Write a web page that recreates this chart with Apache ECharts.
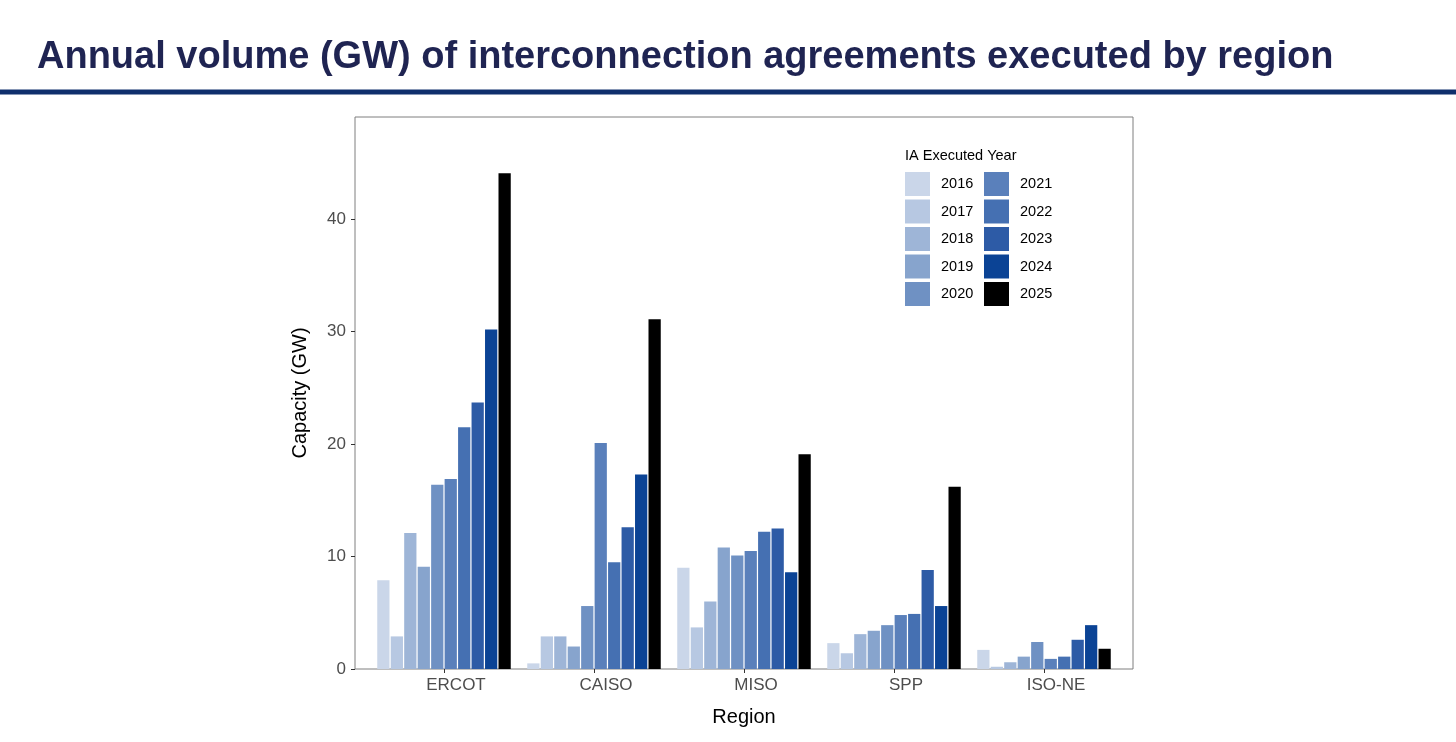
<!DOCTYPE html>
<html>
<head>
<meta charset="utf-8">
<script src="https://cdn.jsdelivr.net/npm/echarts@6/dist/echarts.min.js"></script>
<style>
html,body{margin:0;padding:0;background:#fff;}
#chart{width:1456px;height:742px;}
</style>
</head>
<body>
<div id="chart"></div>
<script>
const regions = ['ERCOT', 'CAISO', 'MISO', 'SPP', 'ISO-NE'];
const years = ['2016','2017','2018','2019','2020','2021','2022','2023','2024','2025'];
const yTicks = [0, 10, 20, 30, 40];
// values per year, ordered as regions
const v2016 = [7.9, 0.5, 9.0, 2.3, 1.7];
const v2017 = [2.9, 2.9, 3.7, 1.4, 0.2];
const v2018 = [12.1, 2.9, 6.0, 3.1, 0.6];
const v2019 = [9.1, 2.0, 10.8, 3.4, 1.1];
const v2020 = [16.4, 5.6, 10.1, 3.9, 2.4];
const v2021 = [16.9, 20.1, 10.5, 4.8, 0.9];
const v2022 = [21.5, 9.5, 12.2, 4.9, 1.1];
const v2023 = [23.7, 12.6, 12.5, 8.8, 2.6];
const v2024 = [30.2, 17.3, 8.6, 5.6, 3.9];
const v2025 = [44.1, 31.1, 19.1, 16.2, 1.8];
const seriesValues = [v2016, v2017, v2018, v2019, v2020, v2021, v2022, v2023, v2024, v2025];
const colors = ['#cad6e9','#b7c8e2','#9eb5d7','#87a4cd','#6f91c3','#5a80bb','#4570b2','#2d5ba6','#0b4395','#000000'];

const FONT = '"Liberation Sans", Arial, Helvetica, sans-serif';
const chart = echarts.init(document.getElementById('chart'), null, {renderer: 'canvas'});

const series = years.map((y, i) => ({
  name: y,
  type: 'bar',
  xAxisIndex: 0,
  yAxisIndex: 0,
  data: seriesValues[i],
  barCategoryGap: '11%',
  barGap: '10%',
  itemStyle: {color: colors[i]},
  emphasis: {disabled: true},
  animation: false
}));

const legendCommon = {
  orient: 'vertical',
  icon: 'rect',
  padding: 0,
  itemWidth: 25,
  itemHeight: 24,
  itemGap: 3.5,
  selectedMode: false,
  textStyle: {fontFamily: FONT, fontSize: 14.5, color: '#000', padding: [0, 0, 0, 6]}
};

chart.setOption({
  animation: false,
  backgroundColor: '#ffffff',
  graphic: [
    {type: 'text', left: 37, top: 39, style: {text: 'Annual volume (GW) of interconnection agreements executed by region', font: 'bold 38px ' + FONT, fill: '#1f2452'}},
    {type: 'rect', left: 0, top: 89.5, shape: {width: 1456, height: 5}, style: {fill: '#0f2f6c'}},
    {type: 'text', left: 905, top: 148, style: {text: 'IA Executed Year', font: '14.5px ' + FONT, fill: '#000'}}
  ],
  legend: [
    Object.assign({left: 905, top: 172, data: years.slice(0, 5)}, legendCommon),
    Object.assign({left: 984, top: 172, data: years.slice(5)}, legendCommon)
  ],
  grid: [
    {left: 369, right: 337, top: 117, bottom: 73, containLabel: false},
    {left: 355, right: 323, top: 117, bottom: 73, show: true, borderColor: '#7f7f7f', borderWidth: 1, backgroundColor: 'transparent', z: 0}
  ],
  xAxis: [
    {
      type: 'category', gridIndex: 0, data: regions,
      name: 'Region', nameLocation: 'middle', nameGap: 38,
      nameTextStyle: {fontFamily: FONT, fontSize: 20, color: '#000'},
      axisLine: {show: false},
      axisTick: {show: true, alignWithLabel: true, length: 4, lineStyle: {color: '#333', width: 1}},
      axisLabel: {fontFamily: FONT, fontSize: 17, color: '#4d4d4d', margin: 8, padding: [0, 0, 0, 24]},
      splitLine: {show: false}
    },
    {type: 'value', gridIndex: 1, show: false, min: 0, max: 1}
  ],
  yAxis: [
    {
      type: 'value', gridIndex: 0, min: 0, max: 49.1, interval: 10, offset: 14,
      name: 'Capacity (GW)', nameLocation: 'middle', nameGap: 45,
      nameTextStyle: {fontFamily: FONT, fontSize: 20, color: '#000'},
      axisLine: {show: false},
      axisTick: {show: true, length: 4, lineStyle: {color: '#333', width: 1}, customValues: yTicks},
      axisLabel: {fontFamily: FONT, fontSize: 17, color: '#4d4d4d', margin: 9, customValues: yTicks},
      splitLine: {show: false}
    },
    {type: 'value', gridIndex: 1, show: false, min: 0, max: 1}
  ],
  series: series
});
</script>
</body>
</html>
